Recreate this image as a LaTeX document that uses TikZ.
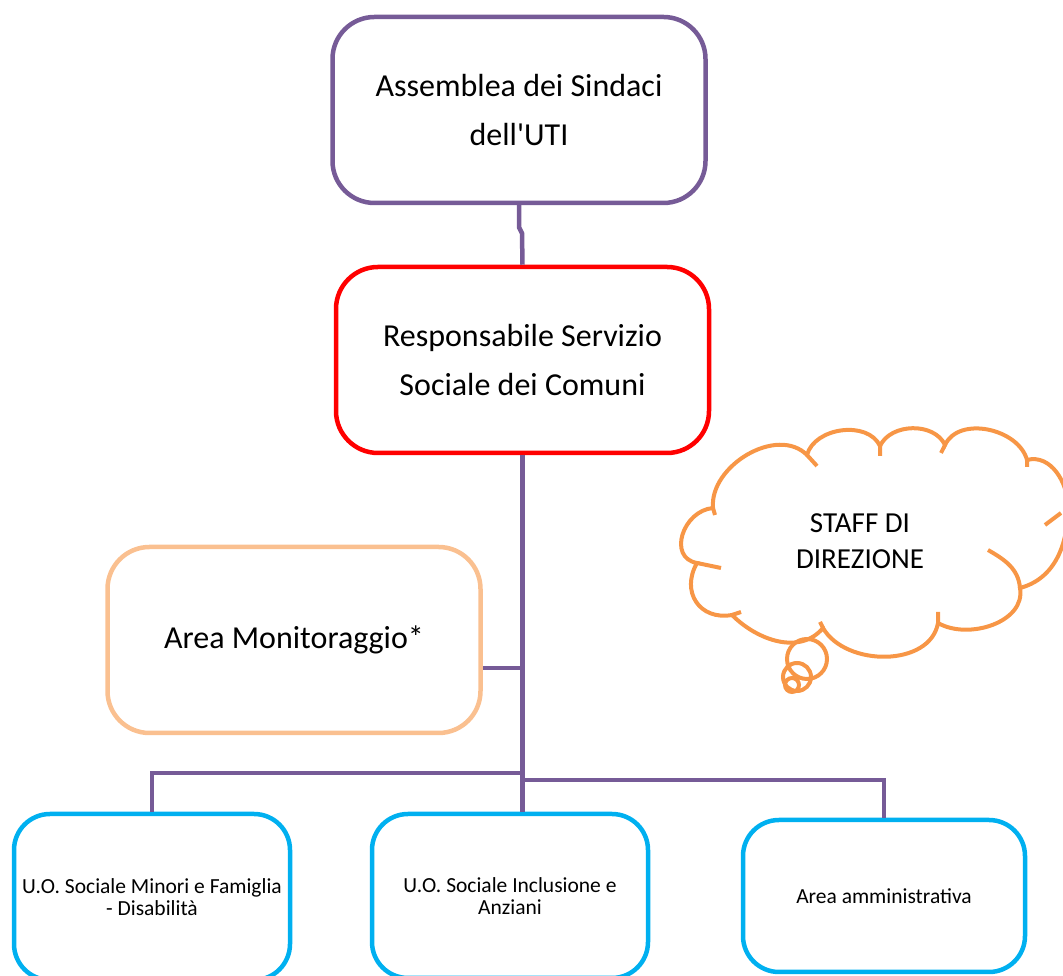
\documentclass[tikz,border=0pt]{standalone}
\usepackage{fontspec}
\setmainfont{Carlito}[Ligatures=TeXOff]
\usepackage{tikz}
\usetikzlibrary{positioning}
\definecolor{linkpurple}{RGB}{118,91,151}
\definecolor{boxred}{RGB}{255,0,0}
\definecolor{boxpeach}{RGB}{250,192,144}
\definecolor{boxcyan}{RGB}{0,176,240}
\definecolor{cloudorange}{RGB}{247,150,70}

\begin{document}
\begin{tikzpicture}[x=1pt,y=1pt]
	\tikzset{bigbox/.style={draw, line width=4.5pt, rounded corners=42pt, minimum width=373pt, minimum height=186pt, align=center, inner sep=0pt, font=\fontsize{32}{49}\selectfont},
		unitbox/.style={draw=boxcyan, line width=4.5pt, rounded corners=36pt, minimum width=276pt, align=center, inner sep=0pt, font=\fontsize{21.5}{22}\selectfont},
		link/.style={linkpurple, line width=4.5pt},
		puff/.style={cloudorange, line width=4pt}}
	
	\useasboundingbox (0,0) rectangle (1063,976);
	
	\node[bigbox, draw=linkpurple] (asm) at (519,866) {Assemblea dei Sindaci\\dell'UTI};
	\node[bigbox, draw=boxred] (resp) at (522.5,616) {Responsabile Servizio\\Sociale dei Comuni};
	\node[bigbox, draw=boxpeach] (monit) at (294,336) {Area Monitoraggio*};
	
	\node[unitbox, minimum height=166pt] (minori) at (152,79) {U.O. Sociale Minori e Famiglia\\- Disabilità};
	\node[unitbox, minimum height=164pt] (inclus) at (510,80) {U.O. Sociale Inclusione e\\Anziani};
	\node[unitbox, minimum width=282pt, minimum height=152pt] (ammin) at (884,80) {Area amministrativa};
	
	% connectors
	\draw[link] (asm.south) -- ++(0,-22) -- ++(3,-6) -- (resp.north);
	\draw[link] (resp.south) -- ++(0,-325) coordinate (hub);
	\draw[link] ([yshift=-28pt]monit.east) coordinate (mb) -- (mb -| hub);
	\draw[link] (minori.north) |- ([yshift=7pt]hub);
	\draw[link] (hub) -- (hub |- inclus.north);
	\draw[link] (hub) -| (ammin.north);
	
	% cloud
	\draw[puff] (713,468) to[out=95,in=135] (807,521)
		to[out=75,in=115] (880,530)
		to[out=65,in=115] (945,531)
		to[out=65,in=105] (1027,516)
		to[out=15,in=90] (1068,469)
		to[out=-90,in=15] (1020,388)
		to[out=-80,in=-30] (938,353)
		to[out=-100,in=-60] (823,348)
		to[out=-130,in=-45] (732,361)
		to[out=190,in=-120,looseness=1.35] (697,413)
		to[out=170,in=185,looseness=1.35] (713,468);
	\draw[puff] (807,521) -- (817,510)  (880,530) -- (880,520)  (945,531) -- (941,523)
		(1027,516) -- (1027,509)  (1061,463) -- (1045,451)  (938,353) -- (938,364)
		(823,348) -- (820,354)  (732,361) -- (741,364)  (697,413) -- (721,408)  (713,468) -- (715,461);
	\draw[puff] (1020,388) to[out=95,in=-30] (988,426);
	\draw[puff] (807,317) circle (20pt) (797,299) circle (14pt) (792,291) circle (7pt);
	\node[align=center, font=\fontsize{29}{36}\selectfont] (staff) at (860,435) {STAFF DI\\DIREZIONE};
\end{tikzpicture}
\end{document}
